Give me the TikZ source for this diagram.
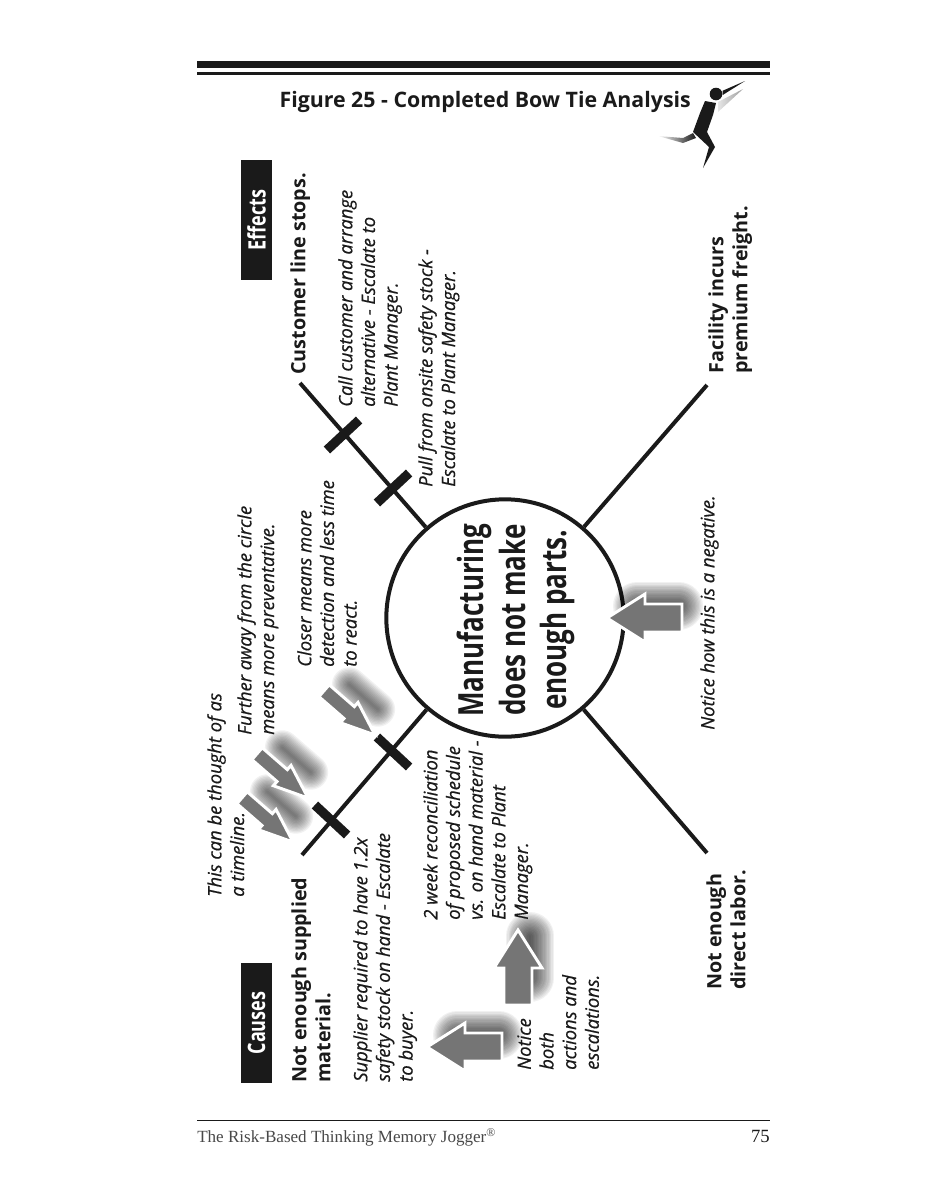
\documentclass[tikz,border=0pt]{standalone}
\usepackage{fontspec}
\setmainfont[ItalicFeatures={FakeBold=0.6}]{Open Sans}
\newfontfamily\footfont{Liberation Serif}
\newfontfamily\tightfont[FakeStretch=0.75,BoldFeatures={FakeStretch=0.75}]{Open Sans}
\usetikzlibrary{positioning}
\definecolor{inkblack}{HTML}{1A1A1A}
\definecolor{notegray}{HTML}{757575}
\tikzset{
  branch/.style={inkblack,line width=3pt},
  tickbar/.style={fill=inkblack,minimum width=33pt,minimum height=7pt,inner sep=0pt},
  headbox/.style={fill=inkblack,text=white,rotate=90,minimum width=90pt,minimum height=23pt,inner sep=0pt,
    font=\fontsize{18}{18}\tightfont\bfseries},
  boldtext/.style={rotate=90,anchor=north west,align=left,inner sep=0pt,text=inkblack,
    font=\fontsize{14.8}{18}\selectfont\bfseries},
  notetext/.style={rotate=90,anchor=north west,align=left,inner sep=0pt,text=inkblack,
    font=\fontsize{13.8}{17}\selectfont\itshape},
  footer/.style={inner sep=0pt,anchor=base west,text=inkblack!80,font=\fontsize{12.8}{15}\footfont}
}
\newcommand{\noteshape}{(0,0) -- (38,-24) -- (38,-14) -- (75,-14) -- (75,14) -- (38,14) -- (38,24) -- cycle}
% tip, angle of tail, xscale, yscale, shadow offset, shadow width
\newcommand{\notearrow}[6]{
  \begin{scope}[shift={#1},shift={#5},rotate=#2,xscale=#3,yscale=#4]
    \foreach \w in {2,4,...,#6}
      \draw[black,opacity=0.055,line width=\w pt,line cap=round] (18,0) -- (60,0);
  \end{scope}
  \begin{scope}[shift={#1},rotate=#2,xscale=#3,yscale=#4]
    \draw[white,fill=notegray,line width=2.2pt,miter limit=10] \noteshape;
  \end{scope}
}
\begin{document}
\begin{tikzpicture}[x=0.75pt,y=-0.75pt]
  \useasboundingbox (0,0) rectangle (927,1200);

  % page furniture
  \fill[inkblack] (197,61) rectangle (770,68);
  \fill[inkblack] (197,72) rectangle (770,74.5);
  \fill[inkblack] (197,1119.5) rectangle (770,1121);
  \node[inner sep=0pt,anchor=base east,text=inkblack,font=\fontsize{16}{17}\selectfont\bfseries] (title)
    at (691,107) {Figure 25 - Completed Bow Tie Analysis};
  \node[footer] (book) at (197,1142) {The Risk-Based Thinking Memory Jogger\textsuperscript{®}};
  \node[footer,anchor=base east,text=inkblack,font=\fontsize{14}{15}\footfont] (pageno) at (770,1142) {75};

  % runner
  \fill[inkblack] (716,94) circle (6.3);
  \fill[inkblack] (722.7,90.7) -- (745,81) -- (722.7,95) -- cycle;
  \shade[left color=gray!20,right color=gray!75] (718,102) -- (743,89) -- (718,112) -- cycle;
  \fill[inkblack] (705,101) -- (716,103) -- (713,115) -- (707,132) -- (715,147) -- (703,168)
    -- (709,147) -- (693,132) -- (700,113) -- cycle;
  \shade[left color=white,right color=inkblack] (658,136) -- (683,138) -- (693,133) -- (696,138) -- (683,143) -- cycle;

  % bow tie
  \node[circle,draw=inkblack,fill=white,line width=3pt,minimum size=178pt,inner sep=0pt] (problem) at (505,618) {};
  \coordinate (stopEnd) at (300,383);
  \coordinate (freightEnd) at (707,385);
  \coordinate (laborEnd) at (707,853);
  \coordinate (supplyEnd) at (302,855);
  \draw[branch] (problem) -- (stopEnd);
  \draw[branch] (problem) -- (freightEnd);
  \draw[branch] (problem) -- (laborEnd);
  \draw[branch] (problem) -- (supplyEnd);

  \node[tickbar,rotate=43] (effectFar) at (343,435) {};
  \node[tickbar,rotate=43] (effectNear) at (393,488) {};
  \node[tickbar,rotate=-43] (causeFar) at (331,820) {};
  \node[tickbar,rotate=-43] (causeNear) at (393,752) {};

  % note arrows
  \notearrow{(607,618)}{0}{1}{1}{(12,-12)}{36}
  \notearrow{(427,1047)}{0}{1}{1}{(12,-12)}{36}
  \notearrow{(518,930)}{-90}{1}{1}{(12,-12)}{36}
  \notearrow{(293,842)}{139}{0.9}{0.56}{(15,-15)}{26}
  \notearrow{(308,798)}{139}{0.9}{0.56}{(15,-15)}{26}
  \notearrow{(375,735)}{139}{0.9}{0.56}{(15,-15)}{26}

  % labels
  \node[rotate=90,align=center,inner sep=0pt,text=inkblack,font=\fontsize{26}{31}\tightfont\bfseries] (problemText)
    at (516,620) {Manufacturing\\does not make\\enough parts.};
  \node[headbox] (effects) at (256.5,220) {Effects};
  \node[headbox] (causes) at (256.5,1023) {Causes};
  \node[boldtext] (stops) at (290,375) {Customer line stops.};
  \node[boldtext] (freight) at (708,374) {Facility incurs\\premium freight.};
  \node[boldtext] (labor) at (706,990) {Not enough\\direct labor.};
  \node[boldtext] (supply) at (291,1083) {Not enough supplied\\material.};
  \node[notetext] (callNote) at (338,407) {Call customer and arrange\\alternative - Escalate to\\Plant Manager.};
  \node[notetext] (pullNote) at (418,487) {Pull from onsite safety stock -\\Escalate to Plant Manager.};
  \node[notetext] (furtherNote) at (237,735) {Further away from the circle\\means more preventative.};
  \node[notetext] (closerNote) at (297,667) {Closer means more\\detection and less time\\to react.};
  \node[notetext] (timeNote) at (207,897) {This can be thought of as\\a timeline.};
  \node[notetext] (supplierNote) at (353,1082) {Supplier required to have 1.2x\\safety stock on hand - Escalate\\to buyer.};
  \node[notetext] (weekNote) at (423,920) {2 week reconciliation\\of proposed schedule\\vs. on hand material -\\Escalate to Plant\\Manager.};
  \node[notetext] (bothNote) at (517,1070) {Notice\\both\\actions and\\escalations.};
  \node[notetext] (negNote) at (700,730) {Notice how this is a negative.};
\end{tikzpicture}
\end{document}
